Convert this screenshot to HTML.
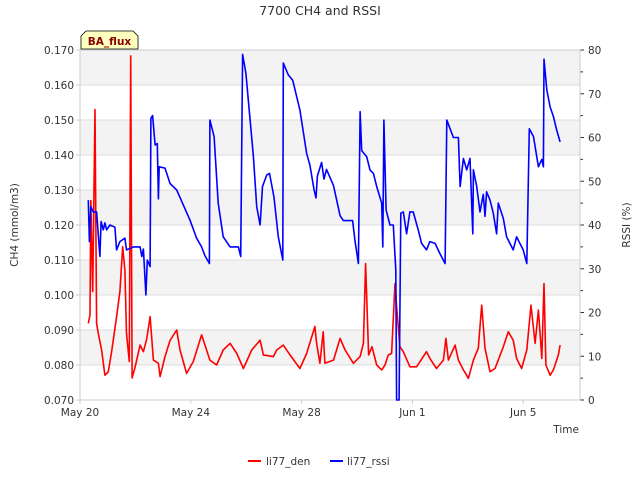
<!DOCTYPE html>
<html><head><meta charset="utf-8"><style>
body{margin:0;background:#fff;}
svg{font-family:"DejaVu Sans","Liberation Sans",sans-serif;}
</style></head><body>
<svg id="chart" width="640" height="480" xmlns="http://www.w3.org/2000/svg">
<text x="320" y="15" text-anchor="middle" font-size="12.5" fill="#333">7700 CH4 and RSSI</text>
<g id="bands"></g><g id="grid"></g><g id="axes"></g><g id="series"></g>
<text transform="translate(18,225) rotate(-90)" text-anchor="middle" font-size="10.5" fill="#333">CH4 (mmol/m3)</text>
<text transform="translate(630,225) rotate(-90)" text-anchor="middle" font-size="10.5" fill="#333">RSSI (%)</text>
<text x="579" y="433" text-anchor="end" font-size="10.5" fill="#333">Time</text>
<g>
<path d="M81,49 L81,36 L86,31 L133,31 L138,36 L138,49 Z" fill="#ffffc0" stroke="#000" stroke-width="0.8"/>
<text x="109.5" y="45" text-anchor="middle" font-size="10.5" font-weight="bold" fill="#8b0000">BA_flux</text>
</g>
<g>
<g><line x1="248" y1="461" x2="261" y2="461" stroke="#f00" stroke-width="2"/><text x="266" y="465" font-size="10.5" fill="#333">li77_den</text></g>
<g><line x1="330" y1="461" x2="343" y2="461" stroke="#00f" stroke-width="2"/><text x="347" y="465" font-size="10.5" fill="#333">li77_rssi</text></g>
</g>
</svg>
<script>
const xTickDays=[0,4,8,12,16];
const xTickLabels=["May 20","May 24","May 28","Jun 1","Jun 5"];
const leftTicks=[0.070,0.080,0.090,0.100,0.110,0.120,0.130,0.140,0.150,0.160,0.170];
const rightTicks=[0,10,20,30,40,50,60,70,80];
const denDays=[0.30,0.36,0.39,0.46,0.54,0.60,0.66,0.78,0.90,1.02,1.14,1.32,1.44,1.54,1.62,1.68,1.78,1.83,1.88,1.99,2.17,2.29,2.41,2.53,2.65,2.83,2.89,3.07,3.25,3.49,3.61,3.85,4.09,4.39,4.69,4.93,5.17,5.42,5.66,5.90,6.20,6.50,6.62,6.98,7.10,7.34,7.58,7.94,8.18,8.48,8.54,8.66,8.78,8.84,9.15,9.39,9.57,9.87,10.11,10.23,10.31,10.42,10.54,10.71,10.89,11.01,11.13,11.25,11.37,11.43,11.55,11.67,11.91,12.15,12.51,12.63,12.87,13.12,13.21,13.30,13.54,13.66,13.84,14.02,14.20,14.38,14.50,14.62,14.80,14.98,15.28,15.46,15.64,15.76,15.94,16.13,16.28,16.43,16.55,16.67,16.75,16.82,16.97,17.09,17.27,17.33];
const denValues=[0.0919,0.0943,0.127,0.101,0.153,0.0919,0.0890,0.0843,0.0771,0.0781,0.0838,0.0938,0.101,0.1138,0.107,0.089,0.081,0.1683,0.0763,0.0794,0.0857,0.0838,0.0876,0.0938,0.0814,0.0805,0.0767,0.0824,0.087,0.0900,0.0843,0.0776,0.0810,0.0886,0.0814,0.0800,0.0843,0.0862,0.0833,0.0790,0.0843,0.0871,0.0829,0.0824,0.0843,0.0857,0.0829,0.0790,0.0833,0.0910,0.0862,0.0805,0.0895,0.0805,0.0814,0.0876,0.0843,0.0805,0.0824,0.0862,0.109,0.0829,0.0852,0.0800,0.0786,0.0800,0.0829,0.0833,0.1033,0.0967,0.0852,0.0838,0.0795,0.0795,0.0838,0.0819,0.0790,0.0814,0.0876,0.0814,0.0857,0.0814,0.0786,0.0762,0.0814,0.0848,0.0971,0.0848,0.0781,0.0790,0.0852,0.0895,0.0871,0.0819,0.0790,0.0843,0.0971,0.0862,0.0957,0.0819,0.1033,0.0800,0.0771,0.0786,0.0829,0.0857];
const rssiDays=[0.30,0.34,0.39,0.48,0.60,0.72,0.76,0.84,0.90,0.96,1.08,1.26,1.32,1.44,1.62,1.68,1.93,2.17,2.23,2.29,2.38,2.43,2.53,2.56,2.62,2.71,2.79,2.83,2.86,3.07,3.25,3.49,3.73,3.97,4.21,4.39,4.51,4.67,4.69,4.84,4.99,5.17,5.42,5.72,5.80,5.87,5.99,6.14,6.26,6.38,6.50,6.59,6.74,6.84,7.00,7.16,7.32,7.34,7.52,7.68,7.94,8.18,8.30,8.45,8.52,8.57,8.72,8.81,8.90,9.15,9.39,9.51,9.84,9.93,10.05,10.11,10.17,10.35,10.47,10.59,10.71,10.89,10.93,10.97,11.05,11.19,11.31,11.40,11.43,11.52,11.58,11.67,11.79,11.91,12.03,12.21,12.33,12.51,12.63,12.82,12.99,13.18,13.24,13.36,13.48,13.66,13.72,13.84,13.96,14.08,14.18,14.20,14.32,14.44,14.56,14.62,14.68,14.80,14.92,15.04,15.10,15.28,15.40,15.64,15.76,15.88,16.00,16.13,16.22,16.37,16.55,16.67,16.73,16.75,16.85,16.97,17.09,17.21,17.33];
const rssiValues=[45.7,36.2,44.2,43,43,32.8,40.8,38.9,40.5,38.9,40,39.5,34.3,36.2,37,34.3,35,35,32.8,34.5,24,32,30.5,64.4,65,58.3,58.6,46,53.3,53,49.5,48,44.6,41.1,37,35,33,31.2,64,60.2,45,37.3,35,35,32.8,79,74.7,64,55.6,44.2,40,48.8,51.4,51.8,46.5,37.3,32,77,74.3,73.1,66.3,56.4,53.7,48,46.2,51.2,54.3,50.5,52.7,49,42.1,41,41,36.2,31.2,65.9,57,55.6,52.6,51.8,48.8,45,35,64,43.4,40,40,29.7,0,0,42.7,43,38,43,43,38.9,35.8,34.3,36.2,35.8,33.5,31.2,64,62,60,60,48.8,55.2,52.6,55.2,38,52.6,48.8,43,47,42,47.6,45.7,42.7,38,45,41.5,37.3,34.3,37.3,35.8,34.3,31.2,62,60.2,53.3,55,53.3,77.9,70.9,67,64.8,61.7,59];

const NS="http://www.w3.org/2000/svg";
const L=80,R=580,T=50,B=400;
const xScale=d=>L+d*(R-L)/18.05;
const yLeft=v=>B-(v-0.070)/(0.100)*(B-T);
const yRight=v=>B-v/80*(B-T);
function mk(tag,attrs,parent){const e=document.createElementNS(NS,tag);for(const k in attrs)e.setAttribute(k,attrs[k]);parent.appendChild(e);return e;}
const bands=document.getElementById('bands'),grid=document.getElementById('grid'),axes=document.getElementById('axes'),series=document.getElementById('series');
for(let i=0;i<leftTicks.length-1;i++){
  if(i%2===1){const r=mk('rect',{x:L,y:yLeft(leftTicks[i+1]),width:R-L,height:yLeft(leftTicks[i])-yLeft(leftTicks[i+1]),fill:'#f3f3f3'},bands);
  
  }
}
leftTicks.forEach((v,i)=>{
  const y=yLeft(v);
  mk('line',{x1:L,y1:y,x2:R,y2:y,stroke:'#dcdcdc','stroke-width':1},grid);
  mk('line',{x1:L-4,y1:y,x2:L,y2:y,stroke:'#ccc','stroke-width':1},axes);
  const t=mk('text',{x:L-6,y:y+4,'text-anchor':'end','font-size':10.5,fill:'#333'},axes);
  
  
  t.textContent=v.toFixed(3);
});
rightTicks.forEach(v=>{
  const y=yRight(v);
  mk('line',{x1:R,y1:y,x2:R+4,y2:y,stroke:'#333','stroke-width':1},axes);
  if(v<80){mk('line',{x1:R,y1:yRight(v+5),x2:R+3,y2:yRight(v+5),stroke:'#333','stroke-width':1},axes);}
  const t=mk('text',{x:R+8,y:y+4,'font-size':10.5,fill:'#333'},axes);
  
  
  t.textContent=v;
});
xTickDays.forEach((d,i)=>{
  const x=xScale(d);
  mk('line',{x1:x,y1:B,x2:x,y2:B+4,stroke:'#ccc'},axes);
  const t=mk('text',{x:x,y:B+16,'text-anchor':'middle','font-size':10.5,fill:'#333'},axes);
  
  
  t.textContent=xTickLabels[i];
});
mk('rect',{x:L,y:T,width:R-L,height:B-T,fill:'none',stroke:'#ccc'},axes);
const den=mk('polyline',{points:denDays.map((d,i)=>xScale(d).toFixed(1)+','+yLeft(denValues[i]).toFixed(1)).join(' '),fill:'none',stroke:'#f00','stroke-width':1.6,'stroke-linejoin':'round'},series);


const rssi=mk('polyline',{points:rssiDays.map((d,i)=>xScale(d).toFixed(1)+','+yRight(rssiValues[i]).toFixed(1)).join(' '),fill:'none',stroke:'#00f','stroke-width':1.6,'stroke-linejoin':'round'},series);


</script>
</body></html>
